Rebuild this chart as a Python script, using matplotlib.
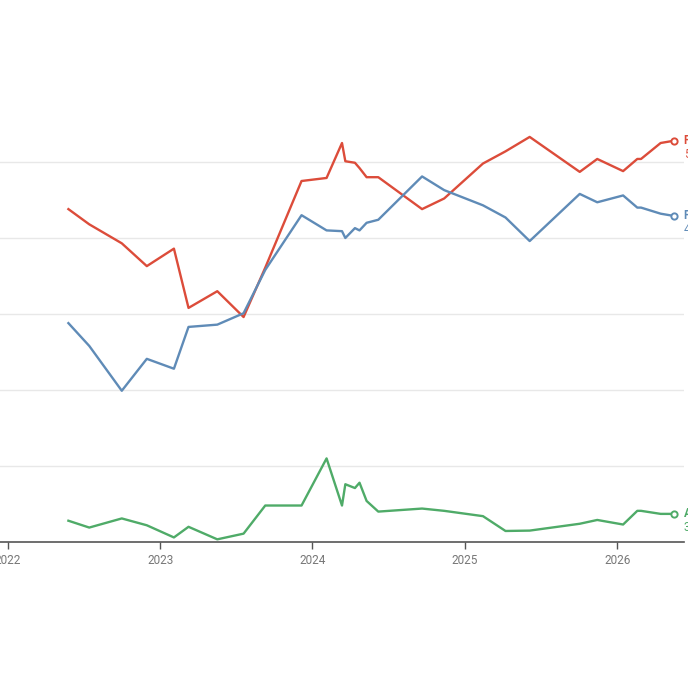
import pandas as pd
import matplotlib.pyplot as plt
import matplotlib.dates as mdates

plt.rcParams['font.family'] = ['Roboto', 'DejaVu Sans']

dates = ['2022-05-26', '2022-07-15', '2022-10-01', '2022-11-30', '2023-02-03',
         '2023-03-10', '2023-05-18', '2023-07-20', '2023-09-10', '2023-12-06',
         '2024-02-04', '2024-03-12', '2024-03-20', '2024-04-12', '2024-04-23',
         '2024-05-10', '2024-06-07', '2024-09-20', '2024-11-12', '2025-02-13',
         '2025-04-08', '2025-06-05', '2025-10-03', '2025-11-14', '2026-01-15',
         '2026-02-18', '2026-02-27', '2026-04-15', '2026-05-17']

red_vals = [43.8, 41.8, 39.3, 36.3, 38.6, 30.8, 33.0, 29.6, 36.1, 47.5,
            47.9, 52.5, 50.1, 49.9, 49.2, 48.0, 48.0, 43.8, 45.2, 49.8,
            51.4, 53.3, 48.7, 50.4, 48.8, 50.4, 50.4, 52.5, 52.8]
blue_vals = [28.8, 25.8, 19.9, 24.1, 22.8, 28.3, 28.6, 30.1, 35.8, 43.0,
             41.0, 40.9, 40.0, 41.3, 41.0, 42.0, 42.4, 48.1, 46.3, 44.3,
             42.7, 39.6, 45.8, 44.7, 45.6, 44.0, 44.0, 43.2, 42.9]
green_vals = [2.8, 1.9, 3.1, 2.2, 0.6, 2.0, 0.35, 1.1, 4.8, 4.8,
              11.0, 4.8, 7.6, 7.1, 7.8, 5.4, 4.0, 4.4, 4.1, 3.4,
              1.45, 1.5, 2.4, 2.9, 2.3, 4.1, 4.1, 3.7, 3.7]

names = ['Pro', 'Pre', 'Alt']
colors = ['#dc4c3a', '#5f8bb7', '#4fab68']
year_ticks = ['2022-01-01', '2023-01-01', '2024-01-01', '2025-01-01', '2026-01-01']
year_labels = ['2022', '2023', '2024', '2025', '2026']

df = pd.DataFrame({'date': pd.to_datetime(dates), names[0]: red_vals,
                   names[1]: blue_vals, names[2]: green_vals})

fig = plt.figure(figsize=(6.88, 6.88), dpi=100)
ax = fig.add_axes([0.0, 1 - 542 / 688, 684 / 688, 418 / 688])

for name, col in zip(names, colors):
    ax.plot(df['date'], df[name], color=col, lw=1.7, zorder=3)
    last_x = df['date'].iloc[-1]
    last_y = df[name].iloc[-1]
    ax.plot([last_x], [last_y], 'o', ms=4.5, mfc='white', mec=col, mew=1.4, zorder=4)
    ax.annotate(name, (last_x, last_y), xytext=(7, 0), textcoords='offset points',
                color=col, fontsize=8.5, fontweight='bold', va='center', ha='left',
                annotation_clip=False)
    ax.annotate(f'{last_y:.1f}%', (last_x, last_y), xytext=(7, -10), textcoords='offset points',
                color=col, fontsize=8.5, va='center', ha='left', annotation_clip=False)

ax.set_xlim(pd.Timestamp('2021-12-13'), pd.Timestamp('2026-06-10'))
ax.set_ylim(0, 55)
ax.set_yticks([10, 20, 30, 40, 50])
ax.yaxis.grid(True, color='#e8e8e8', lw=1)
ax.tick_params(axis='y', length=0, labelleft=False)
ax.set_xticks(pd.to_datetime(year_ticks))
ax.set_xticklabels(year_labels)
ax.tick_params(axis='x', length=5, width=1, color='#555555', labelcolor='#777777',
               labelsize=8.5, pad=4)
for s in ['top', 'right', 'left']:
    ax.spines[s].set_visible(False)
ax.spines['bottom'].set_color('#555555')
ax.spines['bottom'].set_linewidth(1.2)
ax.set_axisbelow(True)

fig.savefig('out.png', dpi=100)
